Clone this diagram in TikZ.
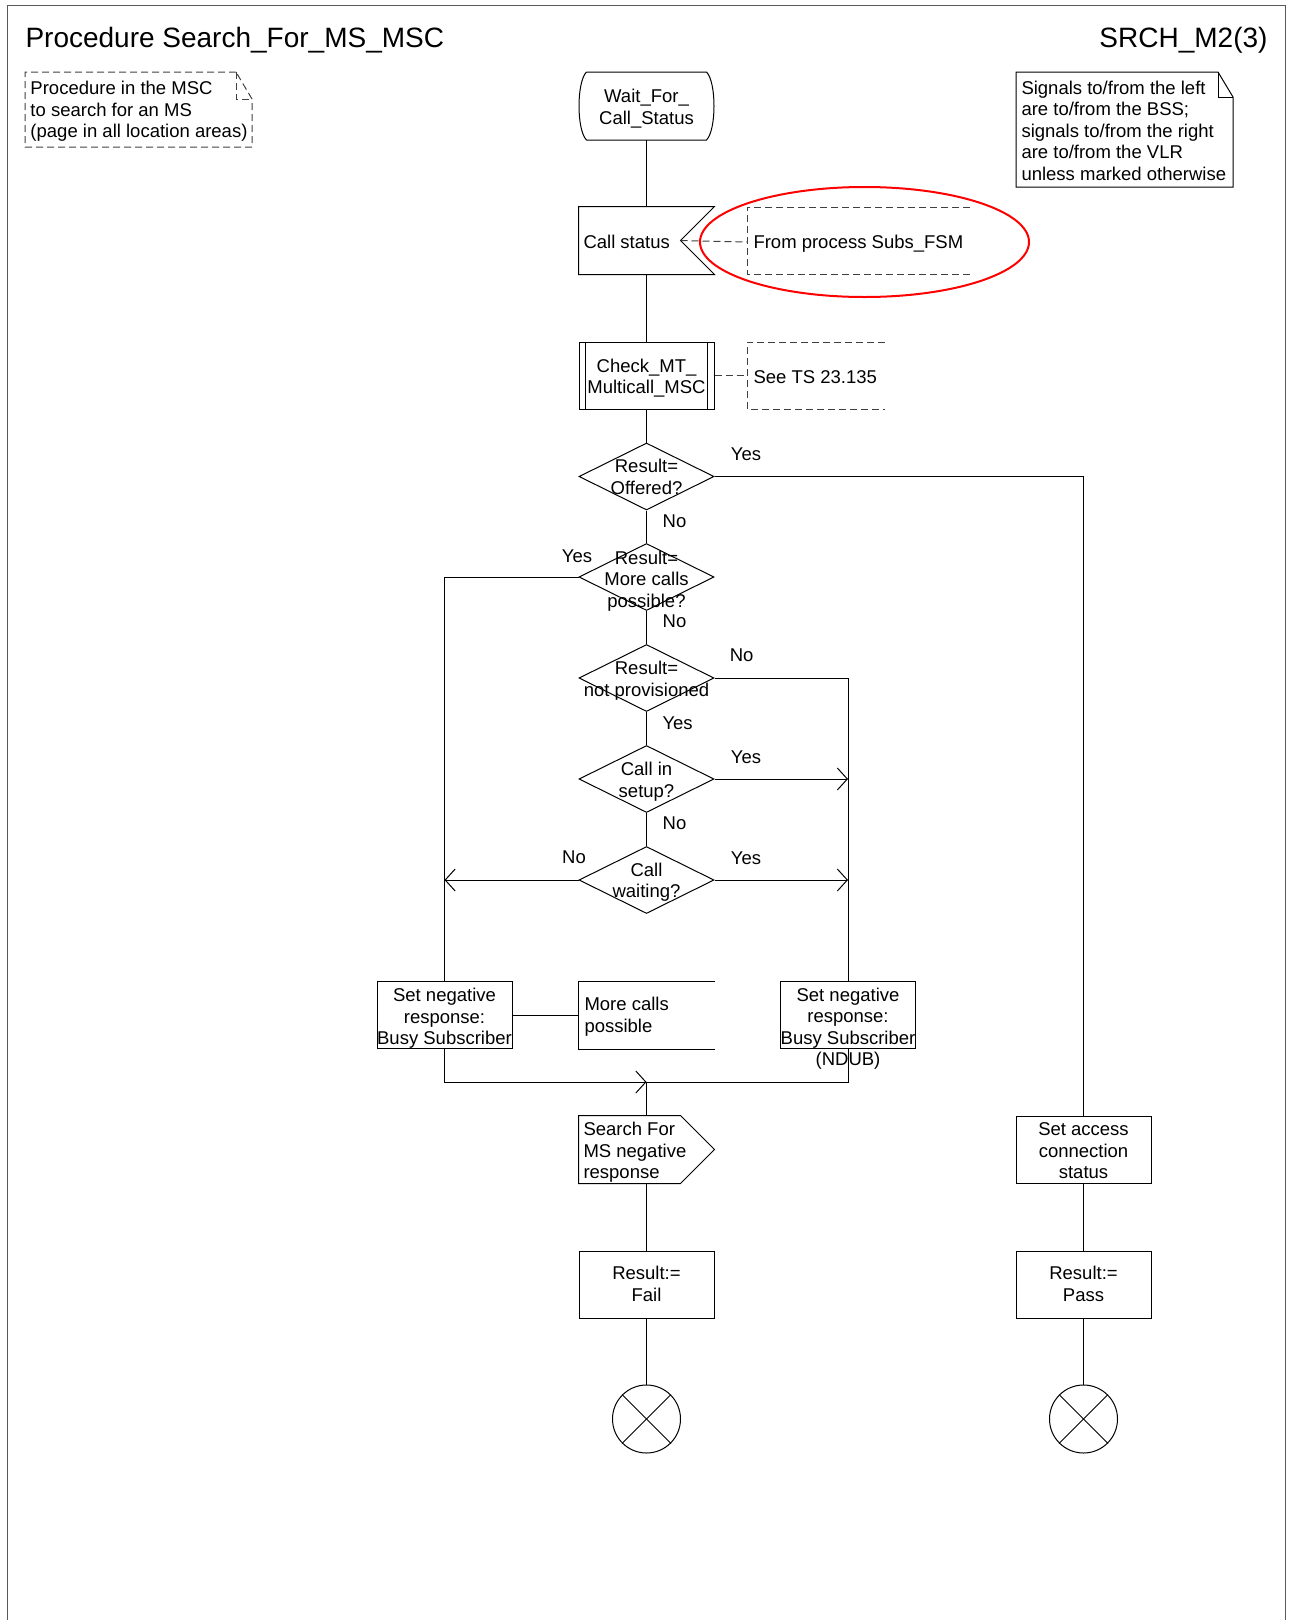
\documentclass[tikz,border=0pt]{standalone}
\usepackage{fontspec}
\setmainfont{Liberation Sans}
\usetikzlibrary{arrows.meta,shapes.geometric,calc}
\begin{document}
\begin{tikzpicture}[x=1pt,y=-1pt, line width=1pt,
  every node/.style={font=\fontsize{18.5}{21.5}\selectfont, inner sep=0pt},
  box/.style={draw, rectangle, minimum width=135pt, minimum height=67pt, align=center},
  ghost/.style={rectangle, minimum width=135pt, minimum height=67pt, align=center},
  dec/.style={draw, diamond, minimum width=135pt, minimum height=67pt},
  txt/.style={align=center},
  ltxt/.style={align=left, anchor=west},
  cmt/.style={dash pattern=on 7pt off 4pt, draw=black!75},
  arr/.style={-{Straight Barb[length=10pt,width=22pt]}},
  term/.style={draw, circle, minimum size=68pt},
  ttl/.style={font=\fontsize{28}{31}\selectfont}
]
\useasboundingbox (0,0) rectangle (1289,1620);
% frame
\draw[black!65] (7,1620) -- (7,5) -- (1285,5) -- (1285,1620);
% titles
\node[ttl, anchor=base west] (title) at (25,47) {Procedure Search\_For\_MS\_MSC};
\node[ttl, anchor=base east] (page) at (1268,47) {SRCH\_M2(3)};
% left note
\node[ltxt] (note1) at (30,111.5) {Procedure in the MSC\\to search for an MS\\(page in all location areas)};
\draw[cmt] (236,72) -- (25,72) -- (25,147) -- (252,147) -- (252,99) -- (236,72);
\draw[cmt] (236,72) -- (236,99) -- (252,99);
% right note
\node[ltxt] (note2) at (1021,130.5) {Signals to/from the left\\are to/from the BSS;\\signals to/from the right\\are to/from the VLR\\unless marked otherwise};
\draw (1218,72) -- (1016,72) -- (1016,187) -- (1233,187) -- (1233,97) -- (1218,72);
\draw (1218,72) -- (1218,97) -- (1233,97);
% state
\node[ghost] (wait) at (646.5,106) {};
\node[txt] (waitt) at (646.5,108.6) {Wait\_For\_\\Call\_Status};
\draw ([xshift=8pt]wait.north west) -- ([xshift=-8pt]wait.north east)
  .. controls ([xshift=2pt,yshift=-10pt]wait.north east) and ([xshift=2pt,yshift=10pt]wait.south east) .. ([xshift=-8pt]wait.south east)
  -- ([xshift=8pt]wait.south west)
  .. controls ([xshift=-2pt,yshift=10pt]wait.south west) and ([xshift=-2pt,yshift=-10pt]wait.north west) .. ([xshift=8pt]wait.north west);
% input
\node[ghost] (cs) at (646.5,240.5) {};
\coordinate (notch) at ([xshift=-34pt]cs.east);
\draw (cs.north west) -- (cs.north east) -- (notch) -- (cs.south east) -- (cs.south west) -- cycle;
\node[ltxt] (cst) at (583,242) {Call status};
\node[ltxt] (c1) at (753,244) {From process Subs\_FSM};
\coordinate (c1b) at (747,242);
\draw[cmt] (970,207) -- (747,207) -- (747,274) -- (970,274);
\draw[cmt] (notch) -- (c1b);
\node[draw=red, line width=2pt, ellipse, minimum width=329pt, minimum height=110pt] (hl) at (864.5,242) {};
% procedure call
\node[box] (chk) at (646.5,375.5) {};
\node[txt] (chkt) at (646.5,378.1) {Check\_MT\_\\Multicall\_MSC};
\draw ([xshift=7pt]chk.north west) -- ([xshift=7pt]chk.south west);
\draw ([xshift=-7pt]chk.north east) -- ([xshift=-7pt]chk.south east);
\node[ltxt] (c2) at (753,377) {See TS 23.135};
\coordinate (c2b) at (747,375.5);
\draw[cmt] (885,342) -- (747,342) -- (747,409) -- (885,409);
\draw[cmt] (chk.east) -- (c2b);
% decisions
\node[dec] (d1) at (646.5,476.5) {};
\node[txt] (d1t) at (646.5,477) {Result=\\Offered?};
\node[dec] (d2) at (646.5,577) {};
\node[txt] (d2t) at (646.5,581) {Result=\\More calls\\possible?};
\node[dec] (d3) at (646.5,678) {};
\node[txt] (d3t) at (646.5,680.5) {Result=\\not provisioned};
\node[dec] (d4) at (646.5,779) {};
\node[txt] (d4t) at (646.5,781.5) {Call in\\setup?};
\node[dec] (d5) at (646.5,880) {};
\node[txt] (d5t) at (646.5,882) {Call\\waiting?};
% labels
\node (y1) at (746,454) {Yes};
\node (n1) at (674.5,521) {No};
\node (y2) at (577,556) {Yes};
\node (n2) at (674.5,621) {No};
\node (n3) at (741.6,655) {No};
\node (y3) at (677.6,723) {Yes};
\node (y4) at (746,757) {Yes};
\node (n4) at (674.5,823) {No};
\node (n5) at (574,857) {No};
\node (y5) at (746,858) {Yes};
% tasks
\node[box] (negL) at (444.5,1015) {};
\node[txt] (negLt) at (444.5,1018.4) {Set negative\\response:\\Busy Subscriber};
\node[ghost] (more) at (646.5,1015) {};
\draw (more.north east) -- (more.north west) -- (more.south west) -- (more.south east);
\node[ltxt] (moret) at (584,1016.5) {More calls\\possible};
\node[box] (negR) at (848,1015) {};
\node[txt] (negRt) at (848,1028.5) {Set negative\\response:\\Busy Subscriber\\(NDUB)};
\coordinate (merge) at (646.5,1082);
\node[ghost] (sfm) at (646.5,1149.5) {};
\draw (sfm.north west) -- ([xshift=-34pt]sfm.north east) -- (sfm.east) -- ([xshift=-34pt]sfm.south east) -- (sfm.south west) -- cycle;
\node[ltxt] (sfmt) at (583,1152.5) {Search For\\MS negative\\response};
\node[box] (fail) at (646.5,1284.5) {};
\node[txt] (failt) at (646.5,1284) {Result:=\\Fail};
\node[term] (e1) at (646.5,1419) {};
\node[box] (acc) at (1083.5,1149.5) {};
\node[txt] (acct) at (1083.5,1151) {Set access\\connection\\status};
\node[box] (pass) at (1083.5,1284.5) {};
\node[txt] (passt) at (1083.5,1284) {Result:=\\Pass};
\node[term] (e2) at (1083.5,1419) {};
\draw (e1.north west) -- (e1.south east);
\draw (e1.north east) -- (e1.south west);
\draw (e2.north west) -- (e2.south east);
\draw (e2.north east) -- (e2.south west);
% connectors
\draw (wait.south) -- (cs.north);
\draw (cs.south) -- (chk.north);
\draw (chk.south) -- (d1.north);
\draw (d1.east) -| (acc.north);
\draw (d1.south) -- (d2.north);
\draw (d2.west) -| (negL.north);
\draw (d2.south) -- (d3.north);
\draw (d3.east) -| (negR.north);
\draw (d3.south) -- (d4.north);
\draw[arr] (d4.east) -- (d4.east -| negR.north);
\draw (d4.south) -- (d5.north);
\draw[arr] (d5.west) -- (d5.west -| negL.north);
\draw[arr] (d5.east) -- (d5.east -| negR.north);
\draw (negL.east) -- (more.west);
\draw[arr] (negL.south) |- (merge);
\draw (negR.south) |- (merge);
\draw (merge) -- (sfm.north);
\draw (sfm.south) -- (fail.north);
\draw (fail.south) -- (e1.north);
\draw (acc.south) -- (pass.north);
\draw (pass.south) -- (e2.north);
\end{tikzpicture}
\end{document}
